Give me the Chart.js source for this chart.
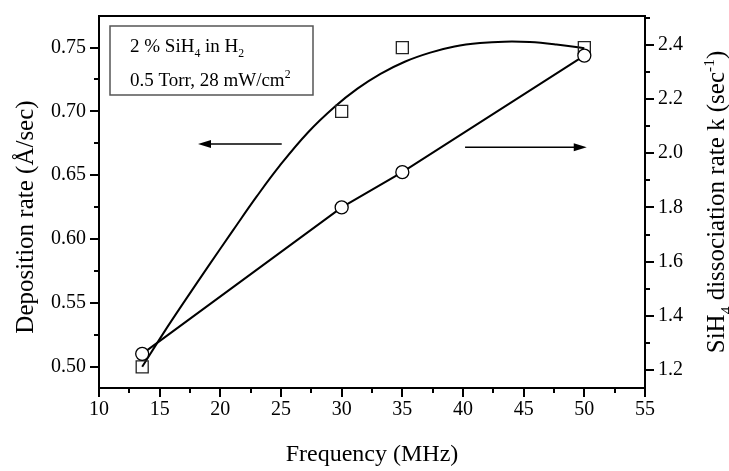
<!DOCTYPE html>
<html>
<head>
<meta charset="utf-8">
<script src="https://cdn.jsdelivr.net/npm/chart.js@4.4.1/dist/chart.umd.min.js"></script>
<style>
html,body{margin:0;padding:0;background:#fff;}
#wrap{width:729px;height:471px;}
</style>
</head>
<body>
<div id="wrap"><canvas id="c" width="729" height="471"></canvas></div>
<script>
// ---- data ----
const frequency = [13.56, 30, 35, 50];               // MHz
const depositionRate = [0.50, 0.70, 0.75, 0.75];      // Å/sec (left axis)
const dissociationRate = [1.26, 1.80, 1.93, 2.36];    // sec^-1 (right axis)
// smooth fitted curve through deposition-rate data
const fitFreq = [13.56, 15.3, 17.1, 19.0, 21.0, 23.0, 24.9, 27.2, 29.45, 31.3, 33.2, 35.2, 37.3, 39.3, 41.4, 43.4, 45.5, 47.7, 50.0];
const fitRate = [0.500, 0.5262, 0.552, 0.5786, 0.6062, 0.6334, 0.6575, 0.6833, 0.7038, 0.7178, 0.7294, 0.7389, 0.7460, 0.7508, 0.7535, 0.7546, 0.7543, 0.7524, 0.7495];
// tick labels
const xTicks = [10, 15, 20, 25, 30, 35, 40, 45, 50, 55];
const xMinor = [12.5, 17.5, 22.5, 27.5, 32.5, 37.5, 42.5, 47.5, 52.5];
const leftTicks = [0.50, 0.55, 0.60, 0.65, 0.70, 0.75];
const leftMinor = [0.525, 0.575, 0.625, 0.675, 0.725];
const rightTicks = [1.2, 1.4, 1.6, 1.8, 2.0, 2.2, 2.4];
const rightMinor = [1.3, 1.5, 1.7, 1.9, 2.1, 2.3, 2.5];
// texts
const xTitle = 'Frequency (MHz)';
const leftTitle = 'Deposition rate (Å/sec)';
const rightTitle = [{t:'SiH'},{t:'4',sub:true},{t:' dissociation rate k (sec'},{t:'-1',sup:true},{t:')'}];
const boxLine1 = [{t:'2 % SiH'},{t:'4',sub:true},{t:' in H'},{t:'2',sub:true}];
const boxLine2 = [{t:'0.5 Torr, 28 mW/cm'},{t:'2',sup:true}];
// arrows (in data units): [xFrom, xTo, yValue, axis]
const leftArrow = [25.06, 18.16, 0.6745, 'y'];
const rightArrow = [40.17, 50.2, 2.022, 'y2'];

const FONT = '"Liberation Serif", "Times New Roman", serif';

function richWidth(ctx, parts, size) {
  let w = 0;
  for (const p of parts) {
    const s = (p.sub || p.sup) ? size * 0.62 : size;
    ctx.font = s + 'px ' + FONT;
    w += ctx.measureText(p.t).width;
  }
  return w;
}
function drawRich(ctx, parts, x, y, size) {
  let cx = x;
  for (const p of parts) {
    let s = size, dy = 0;
    if (p.sub) { s = size * 0.62; dy = size * 0.28; }
    if (p.sup) { s = size * 0.62; dy = -size * 0.40; }
    ctx.font = s + 'px ' + FONT;
    ctx.fillText(p.t, cx, y + dy);
    cx += ctx.measureText(p.t).width;
  }
}
function arrow(ctx, x1, x2, y) {
  ctx.save();
  ctx.strokeStyle = '#000'; ctx.fillStyle = '#000'; ctx.lineWidth = 1.5;
  const dir = Math.sign(x2 - x1);
  ctx.beginPath(); ctx.moveTo(x1, y); ctx.lineTo(x2 - dir * 8, y); ctx.stroke();
  ctx.beginPath(); ctx.moveTo(x2, y); ctx.lineTo(x2 - dir * 13, y - 4); ctx.lineTo(x2 - dir * 13, y + 4); ctx.closePath(); ctx.fill();
  ctx.restore();
}

const decor = {
  id: 'decor',
  afterDraw(chart) {
    const ctx = chart.ctx, a = chart.chartArea;
    const sx = chart.scales.x, sy = chart.scales.y, sy2 = chart.scales.y2;
    ctx.save();
    // top frame line
    ctx.strokeStyle = '#000'; ctx.lineWidth = 2;
    ctx.beginPath(); ctx.moveTo(a.left - 1, a.top); ctx.lineTo(a.right + 1, a.top); ctx.stroke();
    // minor ticks
    ctx.lineWidth = 2;
    ctx.beginPath();
    for (const v of xMinor) { const px = Math.round(sx.getPixelForValue(v)); ctx.moveTo(px, a.bottom); ctx.lineTo(px, a.bottom + 5); }
    for (const v of leftMinor) { const py = Math.round(sy.getPixelForValue(v)); ctx.moveTo(a.left, py); ctx.lineTo(a.left - 5, py); }
    for (const v of rightMinor) { const py = Math.round(sy2.getPixelForValue(v)); ctx.moveTo(a.right, py); ctx.lineTo(a.right + 5, py); }
    ctx.stroke();
    // arrows
    arrow(ctx, sx.getPixelForValue(leftArrow[0]), sx.getPixelForValue(leftArrow[1]), chart.scales[leftArrow[3]].getPixelForValue(leftArrow[2]));
    arrow(ctx, sx.getPixelForValue(rightArrow[0]), sx.getPixelForValue(rightArrow[1]), chart.scales[rightArrow[3]].getPixelForValue(rightArrow[2]));
    // info box
    ctx.strokeStyle = '#555'; ctx.lineWidth = 1.5;
    ctx.strokeRect(a.left + 11, a.top + 10, 203, 69);
    ctx.fillStyle = '#000'; ctx.textBaseline = 'alphabetic'; ctx.textAlign = 'left';
    drawRich(ctx, boxLine1, a.left + 31, a.top + 36, 19);
    drawRich(ctx, boxLine2, a.left + 31, a.top + 70, 19);
    // axis titles
    ctx.font = '24px ' + FONT; ctx.textAlign = 'center'; ctx.textBaseline = 'alphabetic';
    ctx.fillText(xTitle, (a.left + a.right) / 2, 461);
    ctx.save();
    ctx.font = '25px ' + FONT;
    ctx.translate(33, (a.top + a.bottom) / 2 + 15);
    ctx.rotate(-Math.PI / 2);
    ctx.fillText(leftTitle, 0, 0);
    ctx.restore();
    ctx.save();
    const w = richWidth(ctx, rightTitle, 25);
    ctx.translate(724, (a.top + a.bottom) / 2 + w / 2);
    ctx.rotate(-Math.PI / 2);
    ctx.textAlign = 'left';
    drawRich(ctx, rightTitle, 0, 0, 25);
    ctx.restore();
    ctx.restore();
  }
};

const tickFont = { family: FONT, size: 20 };
const gridOpts = { drawOnChartArea: false, color: '#000', tickLength: 9, lineWidth: 2 };
const borderOpts = { color: '#000', width: 2 };

new Chart(document.getElementById('c'), {
  type: 'line',
  data: {
    datasets: [
      {
        label: 'SiH4 dissociation rate',
        data: frequency.map((f, i) => ({ x: f, y: dissociationRate[i] })),
        yAxisID: 'y2',
        borderColor: '#000', borderWidth: 2,
        pointStyle: 'circle', pointRadius: 6.5,
        pointBackgroundColor: '#fff', pointBorderColor: '#000', pointBorderWidth: 1.3,
        tension: 0
      },
      {
        label: 'Deposition rate',
        data: frequency.map((f, i) => ({ x: f, y: depositionRate[i] })),
        yAxisID: 'y',
        showLine: false,
        pointStyle: 'rect', pointRadius: 8.5,
        pointBackgroundColor: 'rgba(0,0,0,0)', pointBorderColor: '#222', pointBorderWidth: 1.3
      },
      {
        label: 'Fit',
        data: fitFreq.map((f, i) => ({ x: f, y: fitRate[i] })),
        yAxisID: 'y',
        borderColor: '#000', borderWidth: 2,
        pointRadius: 0,
        tension: 0.4
      }
    ]
  },
  options: {
    responsive: false,
    animation: false,
    devicePixelRatio: 1,
    layout: { padding: { top: 14, left: 0, right: 0, bottom: 0 } },
    plugins: { legend: { display: false }, tooltip: { enabled: false } },
    scales: {
      x: {
        type: 'linear', position: 'bottom', min: 10, max: 55,
        afterBuildTicks: s => { s.ticks = xTicks.map(v => ({ value: v })); },
        afterFit: s => { s.height = 83; },
        ticks: { font: tickFont, color: '#000', padding: 1, maxRotation: 0, callback: v => String(v) },
        grid: gridOpts, border: borderOpts
      },
      y: {
        type: 'linear', position: 'left', min: 0.4834, max: 0.7747,
        afterBuildTicks: s => { s.ticks = leftTicks.map(v => ({ value: v })); },
        afterFit: s => { s.width = 99; },
        ticks: { font: tickFont, color: '#000', padding: 4, callback: v => v.toFixed(2) },
        grid: gridOpts, border: borderOpts
      },
      y2: {
        type: 'linear', position: 'right', min: 1.134, max: 2.506,
        afterBuildTicks: s => { s.ticks = rightTicks.map(v => ({ value: v })); },
        afterFit: s => { s.width = 84; },
        ticks: { font: tickFont, color: '#000', padding: 4, callback: v => v.toFixed(1) },
        grid: gridOpts, border: borderOpts
      }
    }
  },
  plugins: [decor]
});
</script>
</body>
</html>
